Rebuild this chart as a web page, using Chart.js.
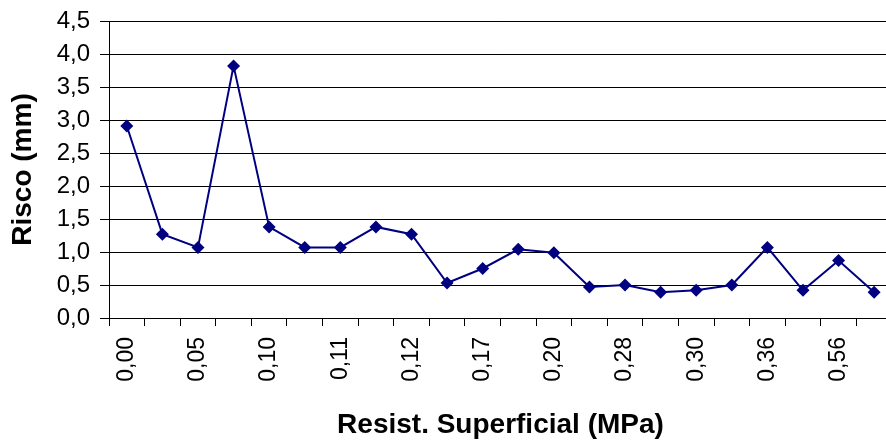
<!DOCTYPE html>
<html>
<head>
<meta charset="utf-8">
<script src="https://cdn.jsdelivr.net/npm/chart.js@4"></script>
<style>
  html, body { margin: 0; padding: 0; background: #fff; overflow: hidden; }
  #wrap { width: 886px; height: 444px; overflow: hidden; }
  canvas { display: block; }
</style>
</head>
<body>
<div id="wrap"><canvas id="c" width="913" height="444"></canvas></div>
<script>
// Category labels (only every other label is printed in the source chart)
const categories = ['0,00', '', '0,05', '', '0,10', '', '0,11', '', '0,12', '', '0,17', '',
                    '0,20', '', '0,28', '', '0,30', '', '0,36', '', '0,56', ''];
// Risco (mm)
const riscoValues = [2.91, 1.27, 1.07, 3.82, 1.38, 1.07, 1.07, 1.38, 1.27, 0.53, 0.75, 1.04,
                     0.99, 0.47, 0.50, 0.39, 0.42, 0.50, 1.07, 0.42, 0.87, 0.39];
const yMin = 0, yMax = 4.5, yStep = 0.5;
const xTitle = 'Resist. Superficial (MPa)';
const yTitle = 'Risco (mm)';

const FONT = "'Liberation Sans', Arial, sans-serif";

new Chart(document.getElementById('c'), {
  type: 'line',
  data: {
    labels: categories,
    datasets: [{
      data: riscoValues,
      borderColor: '#000080',
      backgroundColor: '#000080',
      borderWidth: 2,
      pointStyle: 'rectRot',
      pointRadius: 6.5,
      pointBorderWidth: 0,
      pointBackgroundColor: '#000080',
      tension: 0
    }]
  },
  options: {
    responsive: false,
    animation: false,
    layout: { padding: { left: 0, top: 21, right: 11, bottom: 0 } },
    plugins: { legend: { display: false }, tooltip: { enabled: false } },
    scales: {
      x: {
        offset: true,
        grid: { offset: true, drawOnChartArea: false, drawTicks: true, tickLength: 8, color: '#000', lineWidth: 1 },
        border: { display: true, color: '#000', width: 1 },
        ticks: {
          autoSkip: false, minRotation: 90, maxRotation: 90, padding: 11,
          color: '#000', font: { family: FONT, size: 23 }
        },
        title: {
          display: true, text: xTitle, color: '#000',
          font: { family: FONT, size: 28, weight: 'bold' },
          padding: { top: 0, bottom: 2 }
        },
        afterFit(scale) { scale.height = 126; }
      },
      y: {
        min: yMin, max: yMax,
        grid: { color: '#000', lineWidth: 1, drawTicks: true, tickLength: 9 },
        border: { display: true, color: '#000', width: 1 },
        ticks: {
          stepSize: yStep, padding: 10, color: '#000',
          font: { family: FONT, size: 24, lineHeight: 0.8 },
          callback: v => v.toFixed(1).replace('.', ',')
        },
        title: {
          display: true, text: yTitle, color: '#000',
          font: { family: FONT, size: 28, weight: 'bold' },
          padding: { top: 6, bottom: 0 }
        },
        afterFit(scale) { scale.width = 109; }
      }
    }
  }
});
</script>
</body>
</html>
